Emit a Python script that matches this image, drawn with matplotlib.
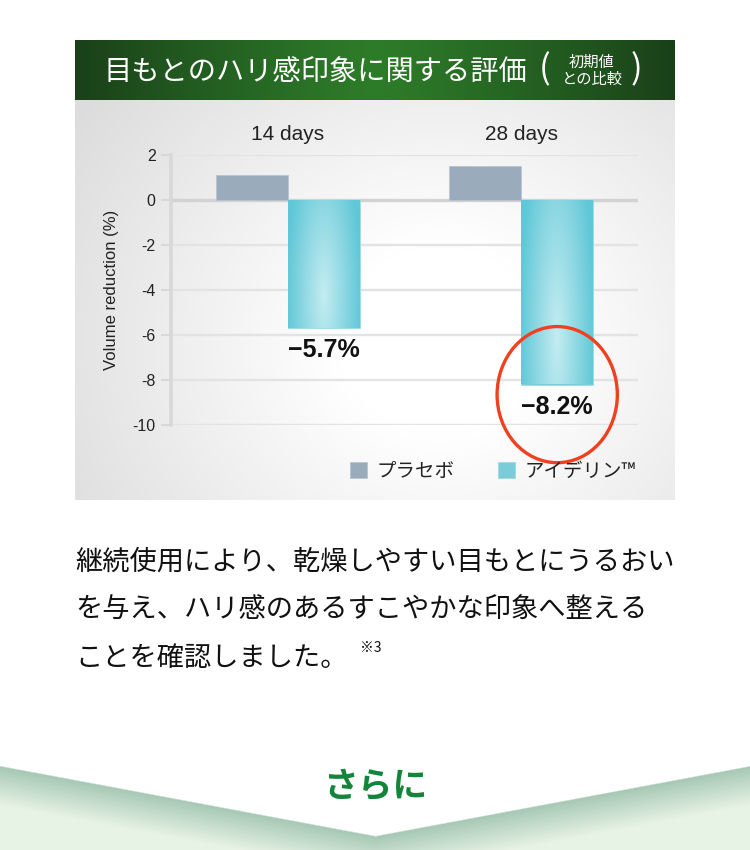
import numpy as np
import matplotlib
matplotlib.use("Agg")
import matplotlib.pyplot as plt
from matplotlib.patches import Ellipse
from matplotlib.colors import to_rgb

plt.rcParams['font.family'] = ['Liberation Sans', 'Noto Sans CJK JP', 'DejaVu Sans']
JP = ['Noto Sans CJK JP', 'DejaVu Sans']

# -------------------------
# Data
# -------------------------
periods = ["14 days", "28 days"]
placebo = [1.1, 1.5]
aiderin = [-5.7, -8.2]
value_labels = ["\u22125.7%", "\u22128.2%"]
series_names = ["プラセボ", "アイデリン™"]
yticks = [2, 0, -2, -4, -6, -8, -10]

title = "目もとのハリ感印象に関する評価"
title_note = "初期値\nとの比較"
body_lines = [
    "継続使用により、乾燥しやすい目もとにうるおい",
    "を与え、ハリ感のあるすこやかな印象へ整える",
    "ことを確認しました。",
]
footnote = "※3"
next_label = "さらに"

W, H = 750, 850
fig = plt.figure(figsize=(W / 100, H / 100), dpi=100)
fig.patch.set_facecolor("white")

# background axes in pixel coordinates
bg = fig.add_axes([0, 0, 1, 1])
bg.set_xlim(0, W)
bg.set_ylim(H, 0)
bg.axis("off")


def blend(c0, c1, t):
    c0 = np.array(to_rgb(c0))
    c1 = np.array(to_rgb(c1))
    t = np.clip(t, 0, 1)[..., None]
    return c0 * (1 - t) + c1 * t


# panel background (soft grey, lighter in the middle)
px0, px1, py0, py1 = 75, 675, 100, 500
yy, xx = np.mgrid[py0:py1, px0:px1]
r = np.sqrt(((xx - 440) / 340.0) ** 2 + ((yy - 340) / 310.0) ** 2)
bg.imshow(blend("#ffffff", "#dcdcdc", (r - 0.3) / 1.0), extent=(px0, px1, py1, py0),
          aspect="auto", zorder=0, interpolation="bilinear")

# header band
hx = np.linspace(-1, 1, 600)
band = blend("#2d7c29", "#1a4019", np.abs(hx) ** 1.2)
band = np.repeat(band[None, :, :], 60, axis=0)
bg.imshow(band, extent=(75, 675, 100, 40), aspect="auto", zorder=1)
bg.text(315, 72, title, family=JP, fontsize=20.3, color="white", ha="center", va="center", zorder=2)
bg.text(545, 70, "(", family=JP, fontsize=25, color="white", ha="center", va="center", zorder=2)
bg.text(592, 71, title_note, family=JP, fontsize=11, color="white", ha="center", va="center",
        linespacing=1.05, zorder=2)
bg.text(636, 70, ")", family=JP, fontsize=25, color="white", ha="center", va="center", zorder=2)

# body text
renderer = fig.canvas.get_renderer()
last = None
for i, line in enumerate(body_lines):
    last = bg.text(75, 562 + i * 48, line, family=JP, fontsize=19.6,
                   color="#111111", ha="left", va="center")
ext = last.get_window_extent(renderer)
bg.text(ext.x1 + 13, 648, footnote, family=JP, fontsize=10, color="#111111", ha="left", va="center")

# bottom chevron
cy, cx = np.mgrid[740:H, 0:W]
vline = 765 + 70 * (1 - np.abs(cx - 375) / 375.0)
d = cy - vline
chev = blend("#a5c7b4", "#e8f3e5", d / 40.0)
alpha = np.clip(d / 1.5, 0, 1)
chev_rgba = np.dstack([chev, alpha])
bg.imshow(chev_rgba, extent=(0, W, H, 740), aspect="auto", zorder=1)
bg.text(375, 786, next_label, family=JP, fontsize=25, fontweight="bold", color="#13853a",
        ha="center", va="center", zorder=3)

# -------------------------
# Chart
# -------------------------
ax = fig.add_axes([171 / W, 1 - 425 / H, (638 - 171) / W, (425 - 155) / H])
ax.patch.set_visible(False)
x = np.arange(len(periods))
bw = 0.308

for yv in yticks:
    ax.axhline(yv, color="#d2d2d2" if yv == 0 else "#e3e3e3", lw=2.4 if yv == 0 else 1.7, zorder=1)

b1 = ax.bar(x - bw / 2, placebo, bw, color="#9aabbb", edgecolor="#b8c6d2", lw=0.6,
            label=series_names[0], zorder=3)
b2 = ax.bar(x + bw / 2, aiderin, bw, color="#7ccbd8", edgecolor="#9fdbe4", lw=0.6,
            label=series_names[1], zorder=3)

# gradient fill for the aiderin bars
gx = np.linspace(-1, 1, 80)
gy = np.linspace(0, 1, 80)
GX, GY = np.meshgrid(gx, gy)
gt = 1 - np.clip(np.sqrt(GX ** 2 * 0.9 + (GY - 0.75) ** 2 * 0.6), 0, 1)
grad = blend("#5fc7d7", "#c4ecf1", gt)
for rect in b2:
    x0, w = rect.get_x(), rect.get_width()
    y0, h = rect.get_y(), rect.get_height()
    im = ax.imshow(grad, extent=(x0, x0 + w, y0 + h, y0), origin="upper", aspect="auto",
                   zorder=3.5, interpolation="bilinear")
    im.set_clip_path(rect)

ax.set_xlim(-0.5, 1.5)
ax.set_ylim(-10, 2)
ax.set_xticks([])
ax.set_yticks(yticks)
ax.set_yticklabels([str(v) for v in yticks], fontsize=11.5, color="#222222")
ax.tick_params(axis="y", length=7, width=1.5, color="#d8d8d8", pad=4)
for s in ["top", "right", "bottom"]:
    ax.spines[s].set_visible(False)
ax.spines["left"].set_color("#d8d8d8")
ax.spines["left"].set_linewidth(2.6)
ax.spines["left"].set_zorder(4)
ax.set_ylabel("Volume reduction (%)", fontsize=12, color="#222222", labelpad=10)

for xi, name in zip(x, periods):
    ax.text(xi, 2.9, name, fontsize=15, ha="center", va="center", color="#222222")

for xi, v, lab in zip(x, aiderin, value_labels):
    ax.text(xi + bw / 2, v - 0.98, lab, fontsize=18, fontweight="bold", ha="center",
            va="center", color="#111111", zorder=5)

# highlight circle on the 28 days result
ax.add_patch(Ellipse((x[1] + bw / 2, aiderin[1] - 0.45), 0.515, 6.05, fill=False,
                     edgecolor="#f0401f", lw=2.4, clip_on=False, zorder=6))

leg = fig.legend(handles=[b1, b2], labels=series_names, loc="center",
                 bbox_to_anchor=(493 / W, 1 - 471 / H), ncol=2, frameon=False,
                 prop={"family": JP, "size": 14}, handlelength=0.9, handleheight=0.9,
                 handletextpad=0.5, columnspacing=2.2)
for t in leg.get_texts():
    t.set_color("#222222")

fig.savefig("out.png", dpi=100)
